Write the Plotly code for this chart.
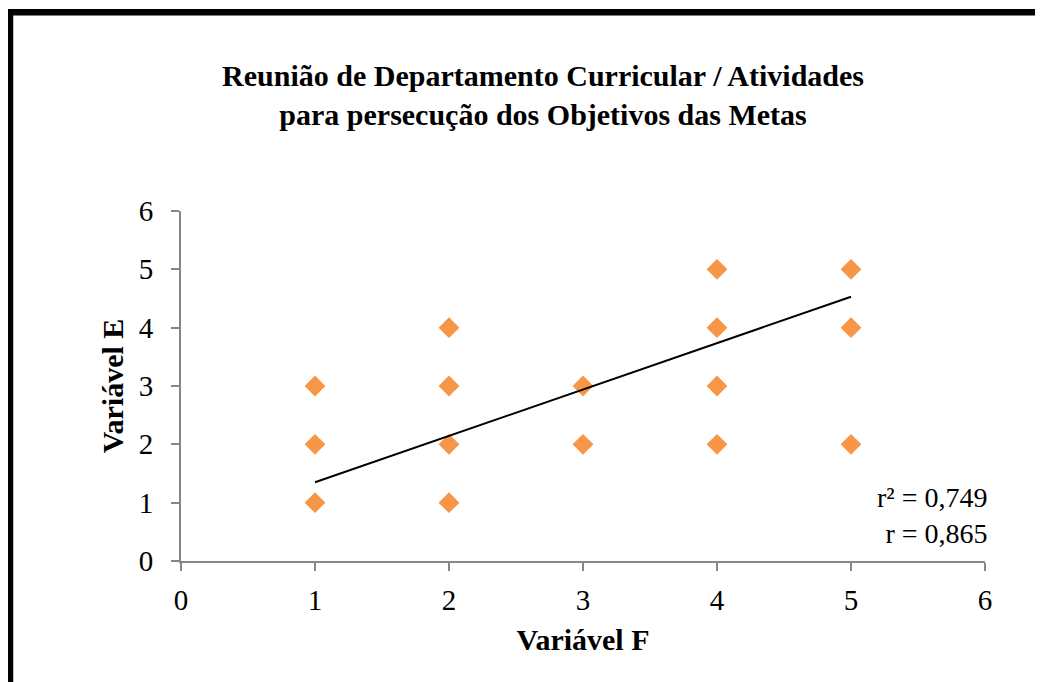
import plotly.graph_objects as go

# Data
var_f = [1, 1, 1, 2, 2, 2, 2, 3, 3, 4, 4, 4, 4, 5, 5, 5]
var_e = [1, 2, 3, 1, 2, 3, 4, 2, 3, 2, 3, 4, 5, 2, 4, 5]
trend_x = [1, 5]
trend_y = [1.35, 4.53]
title_lines = ["Reunião de Departamento Curricular / Atividades",
               "para persecução dos Objetivos das Metas"]
stats_text = ["r² = 0,749", "r = 0,865"]
tick_vals = [0, 1, 2, 3, 4, 5, 6]

FONT = "Liberation Serif, Times New Roman, serif"
AXIS_COLOR = "#868686"

fig = go.Figure()
fig.add_trace(go.Scatter(
    x=var_f, y=var_e, mode="markers",
    marker=dict(symbol="diamond", size=16, color="#F79646"),
    showlegend=False, hoverinfo="x+y"))
fig.add_trace(go.Scatter(
    x=trend_x, y=trend_y, mode="lines",
    line=dict(color="black", width=2), showlegend=False))

axis_common = dict(
    range=[0, 6], tickvals=tick_vals, showgrid=False, zeroline=False,
    showline=True, linecolor=AXIS_COLOR, linewidth=2,
    ticks="outside", ticklen=8, tickwidth=2, tickcolor=AXIS_COLOR,
    tickfont=dict(family=FONT, size=29, color="black"),
)

fig.update_layout(
    width=1043, height=682,
    margin=dict(l=173, r=66, t=203, b=129, autoexpand=False),
    paper_bgcolor="white", plot_bgcolor="white",
    title=dict(
        text="<b>" + "<br>".join(title_lines) + "</b>",
        font=dict(family=FONT, size=30, color="black"),
        x=0.513, xanchor="center", y=0.885, yanchor="top"),
    xaxis=dict(**axis_common, ticklabelstandoff=4,
               title=dict(text="<b>Variável F</b>", standoff=14,
                          font=dict(family=FONT, size=30, color="black"))),
    yaxis=dict(**axis_common, ticklabelstandoff=12,
               title=dict(text="<b>Variável E</b>", standoff=6,
                          font=dict(family=FONT, size=30, color="black"))),
)

fig.add_annotation(
    xref="paper", yref="paper", x=1.006, y=0.131, xanchor="right", yanchor="middle",
    text="<br>".join(stats_text), align="right", showarrow=False,
    font=dict(family=FONT, size=28, color="black"))

# outer frame
fig.add_shape(type="rect", xref="paper", yref="paper",
              x0=-0.2127, y0=-0.6, x1=1.2, y1=1.5677,
              line=dict(color="black", width=6.5), fillcolor="rgba(0,0,0,0)")

fig.write_html("out.html")
